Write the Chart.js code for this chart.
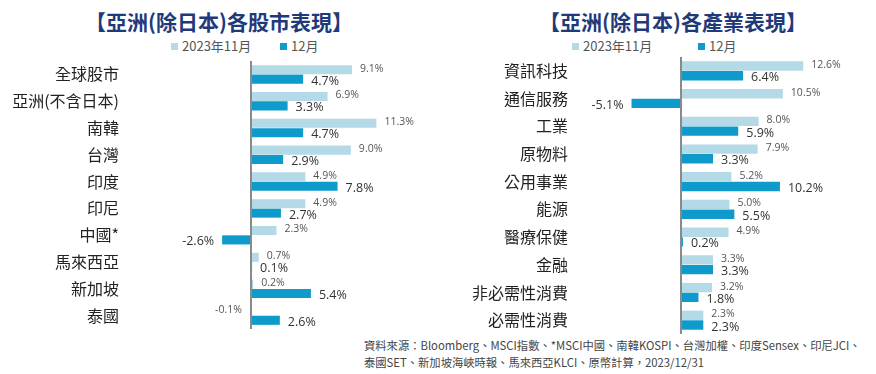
<!DOCTYPE html>
<html><head><meta charset="utf-8">
<script src="https://cdn.jsdelivr.net/npm/chart.js@4.4.0/dist/chart.umd.min.js"></script>
<style>
body{margin:0;background:#fff;width:876px;height:374px;position:relative;overflow:hidden;font-family:"Noto Sans CJK TC",sans-serif;}
.t{position:absolute;font-weight:bold;font-size:21px;line-height:24px;color:#1f3a7a;white-space:nowrap;transform:translateX(-50%);}
.lg{position:absolute;font-size:13px;line-height:16px;color:#555;white-space:nowrap;}
.bx{display:inline-block;width:7px;height:7px;margin-right:4px;vertical-align:1px;}
.src{position:absolute;left:364px;top:337px;font-size:11.3px;line-height:17px;color:#444;white-space:nowrap;}
.cv{position:absolute;}
</style></head>
<body>
<div class="t" style="left:219px;top:9px;">【亞洲(除日本)各股市表現】</div>
<div class="t" style="left:673px;top:9px;">【亞洲(除日本)各產業表現】</div>
<div class="lg" style="left:171px;top:38px;"><span class="bx" style="background:#b4d9e7"></span>2023年11月</div>
<div class="lg" style="left:280px;top:38px;"><span class="bx" style="background:#0e9bcb"></span>12月</div>
<div class="lg" style="left:572px;top:38px;"><span class="bx" style="background:#b4d9e7"></span>2023年11月</div>
<div class="lg" style="left:698px;top:38px;"><span class="bx" style="background:#0e9bcb"></span>12月</div>
<div class="cv" style="left:0;top:61px;width:440px;height:268px;"><canvas id="c1"></canvas></div>
<div class="cv" style="left:440px;top:57px;width:436px;height:277px;"><canvas id="c2"></canvas></div>
<div class="src">資料來源：Bloomberg、MSCI指數、*MSCI中國、南韓KOSPI、台灣加權、印度Sensex、印尼JCI、<br>泰國SET、新加坡海峽時報、馬來西亞KLCI、原幣計算，2023/12/31</div>
<script>
const seriesNames = ['2023年11月', '12月'];
const marketCategories = ['全球股市','亞洲(不含日本)','南韓','台灣','印度','印尼','中國*','馬來西亞','新加坡','泰國'];
const marketNov = [9.1, 6.9, 11.3, 9.0, 4.9, 4.9, 2.3, 0.7, 0.2, -0.1];
const marketDec = [4.7, 3.3, 4.7, 2.9, 7.8, 2.7, -2.6, 0.1, 5.4, 2.6];
const sectorCategories = ['資訊科技','通信服務','工業','原物料','公用事業','能源','醫療保健','金融','非必需性消費','必需性消費'];
const sectorNov = [12.6, 10.5, 8.0, 7.9, 5.2, 5.0, 4.9, 3.3, 3.2, 2.3];
const sectorDec = [6.4, -5.1, 5.9, 3.3, 10.2, 5.5, 0.2, 3.3, 1.8, 2.3];

const COLORS = ['#b4d9e7', '#0e9bcb'];

const labelPlugin = {
  id: 'valLabels',
  afterDatasetsDraw(chart) {
    const ctx = chart.ctx;
    chart.data.datasets.forEach((ds, i) => {
      const meta = chart.getDatasetMeta(i);
      meta.data.forEach((bar, j) => {
        const v = ds.data[j];
        ctx.save();
        ctx.font = (i === 0 ? '10.5px' : '12.5px') + ' "Open Sans", sans-serif';
        ctx.fillStyle = i === 0 ? '#555' : '#333';
        ctx.textBaseline = 'middle';
        const dy = i === 0 ? -1 : 2;
        if (v >= 0) { ctx.textAlign = 'left'; ctx.fillText(v.toFixed(1) + '%', bar.x + 8, bar.y + dy); }
        else { ctx.textAlign = 'right'; ctx.fillText(v.toFixed(1) + '%', bar.x - 8, bar.y + dy); }
        ctx.restore();
      });
    });
  }
};
const zeroLine = {
  id: 'zeroLine',
  afterDatasetsDraw(chart) {
    const ctx = chart.ctx, a = chart.chartArea;
    const x = Math.round(chart.scales.x.getPixelForValue(0));
    ctx.save();
    ctx.strokeStyle = '#8a8a8a';
    ctx.lineWidth = 2;
    ctx.beginPath(); ctx.moveTo(x, a.top); ctx.lineTo(x, a.bottom); ctx.stroke();
    ctx.restore();
  }
};

function make(id, cats, nov, dec, yWidth, xmin, xmax) {
  new Chart(document.getElementById(id), {
    type: 'bar',
    data: {
      labels: cats,
      datasets: [
        { label: seriesNames[0], data: nov, backgroundColor: COLORS[0], categoryPercentage: 0.7, barPercentage: 0.97 },
        { label: seriesNames[1], data: dec, backgroundColor: COLORS[1], categoryPercentage: 0.7, barPercentage: 0.97 }
      ]
    },
    options: {
      indexAxis: 'y',
      responsive: true,
      maintainAspectRatio: false,
      animation: false,
      layout: { padding: 0 },
      plugins: { legend: { display: false }, title: { display: false }, tooltip: { enabled: false } },
      scales: {
        x: { display: false, min: xmin, max: xmax },
        y: {
          grid: { display: false, drawTicks: false },
          border: { display: false },
          ticks: { color: '#222', padding: 6, font: { size: 16, family: '"Noto Sans CJK TC", sans-serif' } },
          afterFit(s) { s.width = yWidth; s.paddingTop = 0; s.paddingBottom = 0; }
        }
      }
    },
    plugins: [labelPlugin, zeroLine]
  });
}
make('c1', marketCategories, marketNov, marketDec, 125, -11.35, 17.03);
make('c2', sectorCategories, sectorNov, sectorDec, 134, -11.03, 20.1);
</script>
</body></html>
